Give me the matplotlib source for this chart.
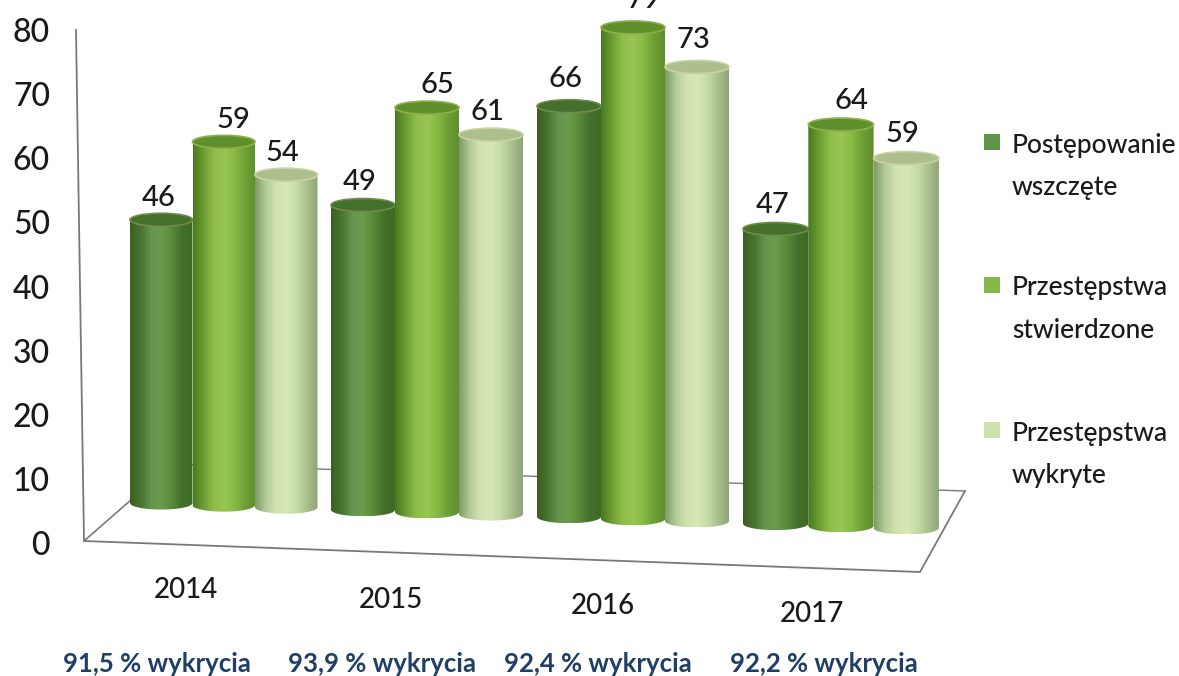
import numpy as np
import matplotlib
matplotlib.use('Agg')
import matplotlib.pyplot as plt
from matplotlib.colors import LinearSegmentedColormap
from matplotlib.patches import Ellipse, Polygon, Rectangle
from matplotlib.transforms import Affine2D

plt.rcParams['font.family'] = ['Lato', 'DejaVu Sans']
plt.rcParams['font.weight'] = 'medium'

# data
years = ['2014', '2015', '2016', '2017']
wszczete = [46, 49, 66, 47]
stwierdzone = [59, 65, 79, 64]
wykryte = [54, 61, 73, 59]
wykrycia = ['91,5 % wykrycia', '93,9 % wykrycia', '92,4 % wykrycia', '92,2 % wykrycia']
series_names = ['Postępowanie\nwszczęte', 'Przestępstwa\nstwierdzone', 'Przestępstwa\nwykryte']
yticks = [0, 10, 20, 30, 40, 50, 60, 70, 80]

# layout, in pixels
W, H = 1179, 676
group_left = [130, 331, 537, 743]
slot_w = [62.5, 64, 64, 65.3]
depth = [0.99, 1.0, 1.0, 1.008]  # perspective, front groups look a bit taller
label_gap = [22, 23, 27, 24]
label_dx = [-3, 10, -4]
px_per_unit = 6.22
base_y = 503
base_slope = 0.0335
cap_ry = 6.5
year_xy = [(186, 590), (391, 600), (603, 606), (812, 614)]
wykr_x = [157, 382, 598, 824]
legend_y = [142, 285, 430]

ramps = [
    ['#3d5f22', '#47752f', '#659550', '#6b9c4c', '#568a38', '#44702a', '#3f6926'],
    ['#4a7a20', '#6d9e34', '#8fbd4c', '#98c652', '#88ba44', '#6f9f36', '#5f8f2c'],
    ['#7f9b6c', '#b4cd96', '#d0e2b0', '#d6e8b6', '#c6dba4', '#a9c08c', '#8ea57a'],
]
cap_colors = ['#44702c', '#5f902c', '#adbf8c']
cap_edges = ['#6f8a4a', '#8fae4c', '#c9d3a0']
legend_colors = ['#5f9548', '#86b845', '#cfe2ae']

fig = plt.figure(figsize=(W / 100, H / 100), dpi=100)
ax = fig.add_axes([0, 0, 1, 1])
ax.axis('off')
px = Affine2D().scale(1, -1).translate(0, H)  # pixel coordinates, top left origin

# frame of the chart
line = '#77797a'
ax.plot([76, 84, 920, 965], [30, 541, 572, 491], color=line, lw=1.3, transform=px, zorder=1)
ax.plot([84, 171], [541, 465], color=line, lw=1.2, transform=px, zorder=1)
ax.plot([171, 965], [464, 491], color=line, lw=1.0, transform=px, zorder=1)

# cylinders
values = [wszczete, stwierdzone, wykryte]
ry = cap_ry / px_per_unit
for i in range(len(years)):
    for j in range(3):
        w = slot_w[i]
        x0 = group_left[i] + j * w
        xc = x0 + w / 2
        b = -base_slope * (xc - 160) / px_per_unit
        top = b + values[j][i] * depth[i]
        cmap = LinearSegmentedColormap.from_list('c', ramps[j])
        t = np.linspace(0, np.pi, 40)
        body = Polygon(
            np.vstack([[[x0, top], [x0 + w, top]],
                       np.c_[xc + w / 2 * np.cos(t), b - ry * np.sin(t)]]),
            transform=ax.transData, fc='none', ec='none')
        ax.add_patch(body)
        im = ax.imshow(np.linspace(0, 1, 64).reshape(1, -1), extent=(x0, x0 + w, b - ry, top),
                       aspect='auto', cmap=cmap, zorder=3 + i * 3 + j * 0.1, interpolation='bilinear')
        im.set_clip_path(body)
        ax.add_patch(Ellipse((xc, top), w, 2 * ry, fc=cap_colors[j], ec=cap_edges[j], lw=1.2,
                             zorder=3.05 + i * 3 + j * 0.1))
        ax.annotate(str(values[j][i]), (xc, top), xytext=(label_dx[j], label_gap[i]), textcoords='offset pixels',
                    ha='center', va='center', fontsize=21, color='#1a1a1a', zorder=30,
                    annotation_clip=False)

ax.set_xlim(0, W)
ax.set_ylim((base_y - H) / px_per_unit, base_y / px_per_unit)

# value axis labels
for v in yticks:
    ax.text(50, 546 - v * 6.41, str(v), ha='right', va='center', fontsize=23, color='#1a1a1a', transform=px)

for yr, (x, y) in zip(years, year_xy):
    ax.text(x, y, yr, ha='center', va='center', fontsize=20, color='#1a1a1a', transform=px)

for lab, x in zip(wykrycia, wykr_x):
    ax.text(x, 664, lab, ha='center', va='center', fontsize=18.5, fontweight='bold', color='#1f3f66', transform=px)

# legend
for name, y, c in zip(series_names, legend_y, legend_colors):
    ax.add_patch(Rectangle((984, y - 8), 16, 16, fc=c, ec='none', transform=px))
    ax.text(1012, y + 24, name, ha='left', va='center', fontsize=19, color='#1a1a1a', linespacing=1.85, transform=px)

fig.savefig('out.png', dpi=100)
